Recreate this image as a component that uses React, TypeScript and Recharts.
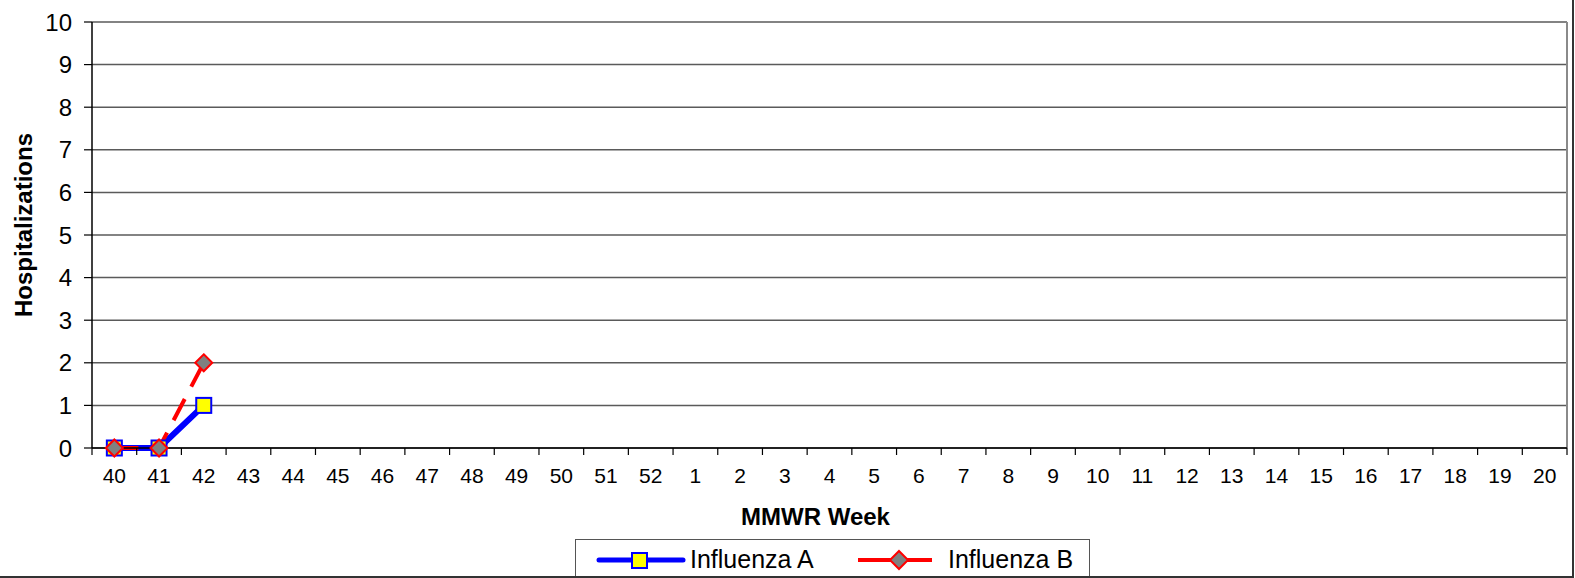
import { LineChart, Line, XAxis, YAxis, CartesianGrid, Legend, ReferenceLine, Label } from 'recharts'

const weeks = ['40', '41', '42', '43', '44', '45', '46', '47', '48', '49', '50', '51', '52',
  '1', '2', '3', '4', '5', '6', '7', '8', '9', '10', '11', '12', '13', '14', '15', '16', '17', '18', '19', '20']
const fluA: (number | null)[] = [0, 0, 1]
const fluB: (number | null)[] = [0, 0, 2]
const yTicks = [0, 1, 2, 3, 4, 5, 6, 7, 8, 9, 10]

const font = '"Liberation Sans", Arial, sans-serif'

const data = weeks.map((week, i) => ({
  i,
  week,
  a: fluA[i] ?? null,
  b: fluB[i] ?? null,
}))

// labels at integer positions, tick marks at the half-way boundaries
const xTicks: number[] = []
for (let k = -0.5; k <= weeks.length - 0.5; k += 0.5) xTicks.push(k)

function WeekTick({ x, y, payload }: any) {
  const v = payload.value
  if (Number.isInteger(v)) {
    return (
      <text x={x} y={y + 20} dy="0.71em" textAnchor="middle" fontSize={21} fontFamily={font} fill="#000">
        {weeks[v]}
      </text>
    )
  }
  return <line x1={x} x2={x} y1={y} y2={y + 7} stroke="#000" strokeWidth={1.2} />
}

function SquareDot({ cx, cy }: any) {
  if (cx == null || cy == null) return null
  return <rect x={cx - 7.5} y={cy - 7.5} width={15} height={15} fill="#ffff00" stroke="#0000ff" strokeWidth={2} />
}

function DiamondDot({ cx, cy }: any) {
  if (cx == null || cy == null) return null
  const r = 8.5
  return (
    <path d={`M${cx},${cy - r}L${cx + r},${cy}L${cx},${cy + r}L${cx - r},${cy}Z`}
      fill="#808080" stroke="#ff0000" strokeWidth={2} />
  )
}

function LegendBox() {
  return (
    <svg width={515} height={40} style={{ display: 'block' }}>
      <rect x={0.5} y={0.5} width={514} height={45} fill="#fff" stroke="#555" strokeWidth={1} />
      <line x1={24} x2={108} y1={21} y2={21} stroke="#0000ff" strokeWidth={5} strokeLinecap="round" />
      <rect x={57} y={14} width={15} height={15} fill="#ffff00" stroke="#0000ff" strokeWidth={2} />
      <text x={115} y={29} fontSize={25} fontFamily={font} fill="#000">Influenza A</text>
      <line x1={283} x2={357} y1={21} y2={21} stroke="#ff0000" strokeWidth={4} />
      <path d="M324,12L333,21L324,30L315,21Z" fill="#808080" stroke="#ff0000" strokeWidth={2} />
      <text x={373} y={29} fontSize={25} fontFamily={font} fill="#000">Influenza B</text>
    </svg>
  )
}

export default function App() {
  return (
    <div style={{
      position: 'absolute', left: 0, top: 0, width: 1572, height: 576, background: '#fff',
      borderRight: '2px solid #333', borderBottom: '2px solid #333', overflow: 'hidden',
    }}>
      <LineChart width={1572} height={576} data={data} margin={{ top: 22, right: 5, bottom: 0, left: 0 }}>
        <CartesianGrid vertical={false} stroke="#5a5a5a" strokeWidth={1.5} />
        <XAxis
          dataKey="i"
          type="number"
          domain={[-0.5, weeks.length - 0.5]}
          ticks={xTicks}
          interval={0}
          allowDataOverflow
          height={128}
          tickLine={false}
          tickSize={0}
          tickMargin={0}
          tick={<WeekTick />}
          axisLine={{ stroke: '#000', strokeWidth: 1.5 }}
        >
          <Label
            content={({ viewBox }: any) => (
              <text x={viewBox.x + viewBox.width / 2 - 14} y={viewBox.y + 68} dominantBaseline="central"
                textAnchor="middle" fontSize={24} fontWeight="bold" fontFamily={font} fill="#000">
                MMWR Week
              </text>
            )}
          />
        </XAxis>
        <YAxis
          domain={[0, 10]}
          ticks={yTicks}
          interval={0}
          width={92}
          tickSize={8}
          tickMargin={12}
          tick={{ fontSize: 24, fontFamily: font, fill: '#000' }}
          tickLine={{ stroke: '#000', strokeWidth: 1.2 }}
          axisLine={{ stroke: '#000', strokeWidth: 1.5 }}
        >
          <Label
            content={({ viewBox }: any) => {
              const cx = 23
              const cy = viewBox.y + viewBox.height / 2 - 10
              return (
                <text x={cx} y={cy} transform={`rotate(-90 ${cx} ${cy})`} dominantBaseline="central"
                  textAnchor="middle" fontSize={24} fontWeight="bold" fontFamily={font} fill="#000">
                  Hospitalizations
                </text>
              )
            }}
          />
        </YAxis>
        <ReferenceLine x={weeks.length - 0.5} stroke="#8a8a8a" strokeWidth={2} />
        <Legend
          layout="horizontal"
          verticalAlign="middle"
          align="center"
          content={() => <LegendBox />}
          wrapperStyle={{ position: 'absolute', left: 575, top: 539, width: 515, height: 40 }}
        />
        <Line
          dataKey="a"
          name="Influenza A"
          stroke="#0000ff"
          strokeWidth={6}
          dot={<SquareDot />}
          activeDot={false}
          isAnimationActive={false}
        />
        <Line
          dataKey="b"
          name="Influenza B"
          stroke="#ff0000"
          strokeWidth={4}
          strokeDasharray="24 14"
          dot={<DiamondDot />}
          activeDot={false}
          isAnimationActive={false}
        />
      </LineChart>
    </div>
  )
}
